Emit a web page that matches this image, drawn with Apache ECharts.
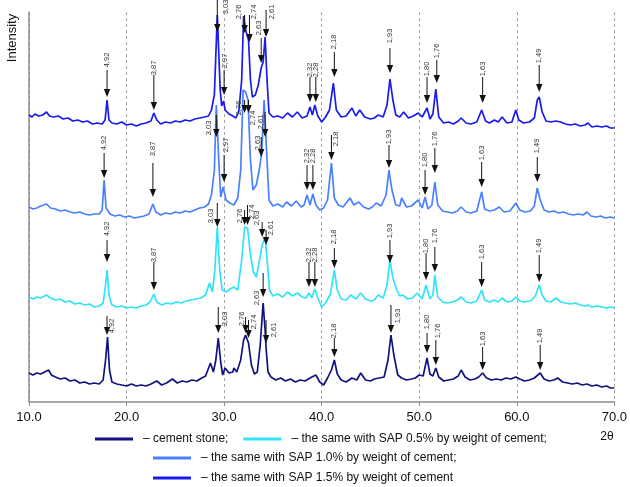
<!DOCTYPE html>
<html>
<head>
<meta charset="utf-8">
<script src="https://cdn.jsdelivr.net/npm/echarts@6/dist/echarts.min.js"></script>
<style>
  html, body { margin: 0; padding: 0; background: #fff; }
  #chart { width: 630px; height: 487px; }
</style>
</head>
<body>
<div id="chart"></div>
<script>
// 2θ, intensity (arbitrary units, traces already stacked)
var sap15 = [
  [10.0,287],[10.3,285],[10.6,288],[11.0,286],[11.4,287],[11.8,290],[12.1,286],[12.5,285],[13.0,286],[13.5,283],
  [14.0,284],[14.5,281],[15.0,282],[15.5,280],[16.0,281],[16.5,278],[17.0,279],[17.5,278],[17.8,282],[18.0,302],
  [18.2,282],[18.5,279],[19.0,278],[19.5,280],[20.0,277],[20.5,278],[21.0,276],[21.5,278],[22.0,279],[22.5,281],
  [22.8,289],[23.1,282],[23.5,278],[24.0,280],[24.5,279],[25.0,281],[25.5,280],[26.0,282],[26.5,281],[27.0,283],
  [27.5,284],[28.0,285],[28.4,286],[28.7,292],[29.0,307],[29.3,387],[29.6,312],[29.75,296],[29.95,301],[30.1,292],
  [30.5,288],[30.9,286],[31.2,284],[31.5,290],[31.8,322],[32.0,386],[32.2,372],[32.5,362],[32.7,322],[32.9,305],
  [33.2,307],[33.5,317],[33.8,334],[34.0,340],[34.2,365],[34.4,322],[34.6,289],[35.0,285],[35.5,286],[36.0,284],
  [36.5,289],[37.0,285],[37.5,290],[38.0,284],[38.5,286],[38.8,295],[39.05,287],[39.3,297],[39.6,286],[40.0,280],
  [40.4,285],[40.8,292],[41.2,319],[41.5,292],[42.0,285],[42.5,286],[43.1,294],[43.5,286],[43.9,292],[44.4,285],
  [45.0,283],[45.4,284],[45.8,287],[46.3,285],[46.7,297],[47.0,323],[47.3,302],[47.6,287],[48.0,285],[48.4,290],
  [48.9,284],[49.4,286],[49.9,289],[50.3,285],[50.8,294],[51.1,283],[51.4,288],[51.7,313],[52.0,285],[52.5,279],
  [53.0,280],[53.5,278],[54.0,281],[54.3,284],[54.8,279],[55.3,278],[55.9,280],[56.4,292],[56.8,281],[57.2,279],
  [57.7,282],[58.1,280],[58.5,285],[59.0,279],[59.5,280],[59.9,292],[60.2,282],[60.7,279],[61.3,280],[61.8,284],
  [62.1,302],[62.3,305],[62.6,290],[63.0,281],[63.5,280],[64.0,281],[64.5,280],[65.0,278],[65.5,277],[66.0,278],
  [66.5,276],[67.0,277],[67.3,279],[67.7,275],[68.2,276],[68.7,275],[69.2,276],[69.6,274],[70.0,274]
];
var sap10 = [
  [10.0,195],[10.4,193],[10.8,194],[11.2,196],[11.8,198],[12.2,194],[12.7,193],[13.2,191],[13.7,192],[14.2,190],
  [14.7,189],[15.2,190],[15.7,188],[16.2,187],[16.7,188],[17.2,188],[17.5,192],[17.7,222],[17.9,194],[18.3,188],
  [18.8,186],[19.3,187],[19.8,185],[20.3,186],[20.8,184],[21.3,185],[21.8,186],[22.3,188],[22.7,198],[23.0,190],
  [23.5,187],[24.0,189],[24.5,188],[25.0,190],[25.5,189],[26.0,191],[26.5,190],[27.0,192],[27.5,194],[28.0,195],
  [28.4,198],[28.7,207],[29.0,232],[29.2,297],[29.45,242],[29.65,205],[29.9,215],[30.2,202],[30.6,199],[31.0,197],
  [31.4,204],[31.7,232],[31.95,312],[32.2,310],[32.45,302],[32.7,242],[32.95,212],[33.3,217],[33.6,232],[33.85,249],
  [34.1,302],[34.35,252],[34.6,202],[35.0,196],[35.5,198],[36.0,195],[36.4,200],[36.9,196],[37.4,201],[37.9,195],
  [38.2,197],[38.5,207],[38.8,197],[39.1,208],[39.4,197],[39.8,192],[40.2,194],[40.6,202],[41.0,239],[41.3,204],
  [41.7,197],[42.2,195],[42.9,204],[43.3,197],[43.8,200],[44.3,195],[44.8,193],[45.2,195],[45.6,199],[46.1,196],
  [46.6,207],[46.9,232],[47.2,212],[47.6,197],[48.0,196],[48.2,204],[48.7,195],[49.2,196],[49.9,202],[50.3,194],
  [50.6,205],[50.9,193],[51.3,197],[51.6,220],[51.9,197],[52.4,191],[52.9,190],[53.4,189],[53.9,191],[54.3,195],
  [54.8,190],[55.3,189],[55.9,191],[56.4,210],[56.7,193],[57.2,191],[57.7,192],[58.2,195],[58.7,190],[59.3,191],
  [59.9,199],[60.3,192],[60.8,190],[61.4,191],[61.8,196],[62.1,214],[62.4,202],[62.8,192],[63.3,190],[63.8,191],
  [64.3,189],[64.8,190],[65.3,188],[65.8,187],[66.3,188],[66.8,187],[67.2,190],[67.6,186],[68.1,185],[68.6,186],
  [69.1,184],[69.6,185],[70.0,184]
];
var sap05 = [
  [10.0,105],[10.4,103],[10.8,105],[11.2,104],[11.8,107],[12.2,104],[12.7,102],[13.2,103],[13.7,100],[14.2,101],
  [14.7,98],[15.2,99],[15.7,97],[16.2,98],[16.7,95],[17.2,96],[17.6,99],[17.85,117],[18.0,132],[18.2,107],
  [18.5,97],[19.0,95],[19.5,96],[20.0,94],[20.5,95],[21.0,94],[21.5,96],[22.0,97],[22.4,100],[22.8,108],
  [23.1,100],[23.6,97],[24.1,99],[24.6,98],[25.1,100],[25.6,99],[26.1,101],[26.6,102],[27.1,103],[27.6,104],
  [28.1,107],[28.5,119],[28.8,110],[29.05,132],[29.3,175],[29.55,132],[29.8,112],[30.2,110],[30.6,113],[31.0,115],
  [31.4,112],[31.8,142],[32.1,175],[32.4,174],[32.7,147],[33.0,130],[33.3,125],[33.6,140],[33.9,157],[34.2,165],
  [34.45,137],[34.65,112],[35.0,106],[35.5,108],[36.0,105],[36.5,110],[37.0,106],[37.5,109],[38.0,105],[38.4,104],
  [38.7,109],[39.0,104],[39.3,113],[39.6,104],[40.0,95],[40.4,99],[40.9,108],[41.3,132],[41.6,112],[42.0,103],
  [42.5,102],[43.0,107],[43.5,103],[44.0,109],[44.5,103],[45.0,101],[45.4,102],[45.8,107],[46.3,104],[46.7,117],
  [47.0,142],[47.3,124],[47.7,112],[48.0,106],[48.3,107],[48.8,103],[49.3,104],[49.8,109],[50.3,103],[50.7,117],
  [51.1,103],[51.4,107],[51.6,127],[51.9,105],[52.4,100],[52.9,99],[53.4,100],[53.9,102],[54.3,105],[54.8,100],
  [55.3,99],[55.9,101],[56.4,112],[56.7,102],[57.2,100],[57.7,102],[58.1,100],[58.5,104],[59.0,100],[59.5,101],
  [59.9,105],[60.3,101],[60.8,100],[61.4,101],[61.9,106],[62.3,117],[62.6,107],[63.0,101],[63.5,100],[64.0,104],
  [64.5,100],[65.0,99],[65.5,98],[66.0,99],[66.5,97],[67.0,96],[67.3,97],[67.7,95],[68.2,96],[68.7,95],
  [69.2,94],[69.6,95],[70.0,94]
];
var cementStone = [
  [10.0,29],[10.4,27],[10.8,29],[11.2,28],[11.6,30],[12.0,32],[12.3,27],[12.7,25],[13.2,23],[13.7,24],
  [14.2,21],[14.7,22],[15.2,19],[15.7,20],[16.2,18],[16.7,19],[17.2,18],[17.6,22],[17.85,42],[18.05,65],
  [18.25,32],[18.5,20],[19.0,18],[19.5,17],[20.0,16],[20.5,18],[21.0,16],[21.5,17],[22.0,16],[22.5,18],
  [23.1,21],[23.6,17],[24.1,19],[24.7,23],[25.2,19],[25.7,21],[26.2,20],[26.7,22],[27.2,21],[27.7,24],
  [28.1,26],[28.6,39],[28.9,30],[29.15,42],[29.4,64],[29.65,40],[29.85,27],[30.1,34],[30.5,29],[30.9,30],
  [31.0,34],[31.3,30],[31.7,42],[32.0,62],[32.2,67],[32.5,59],[32.8,37],[33.1,28],[33.4,30],[33.7,57],
  [34.0,99],[34.2,72],[34.3,54],[34.5,30],[34.8,25],[35.3,22],[35.8,24],[36.3,21],[36.8,23],[37.3,20],
  [37.8,22],[38.3,21],[38.8,24],[39.4,27],[39.8,20],[40.2,17],[40.6,24],[41.0,32],[41.3,42],[41.6,28],
  [42.0,22],[42.5,20],[43.1,24],[43.6,22],[44.0,29],[44.5,22],[45.0,21],[45.4,23],[45.9,24],[46.4,25],
  [46.8,42],[47.1,67],[47.4,47],[47.8,27],[48.2,24],[48.7,22],[49.2,23],[49.6,24],[50.0,27],[50.4,26],
  [50.8,44],[51.1,28],[51.4,26],[51.7,34],[52.0,25],[52.5,21],[53.0,22],[53.5,23],[54.0,26],[54.3,32],
  [54.7,25],[55.2,22],[55.7,23],[56.1,25],[56.5,29],[56.9,24],[57.4,22],[57.9,23],[58.4,22],[58.9,24],
  [59.4,23],[59.9,25],[60.3,23],[60.8,21],[61.3,22],[61.8,24],[62.4,29],[62.8,23],[63.3,21],[63.8,22],
  [64.2,24],[64.7,20],[65.2,19],[65.7,18],[66.2,19],[66.7,17],[67.2,18],[67.7,16],[68.2,17],[68.7,15],
  [69.2,16],[69.6,14],[70.0,14]
];

// peak marks: d-spacing label, 2θ, arrow tail, arrow tip, text shift (px), text centre
var marks15 = [
  ['4,92',18.0,332,305,0,342],['3,87',22.8,327,292,0,334],['3,03',29.3,402,370,9,395],
  ['2,97',30.0,332,307,1,341],['2,76',32.1,387,369,-6,390],['2,74',32.6,387,360,4,390],
  ['2,63',33.8,364,339,-2,374],['2,61',34.3,392,365,6,390],['2,32',38.8,325,300,0,332],
  ['2,28',39.4,325,300,0,332],['2,18',41.3,350,325,0,360],['1,93',47.0,354,329,0,366],
  ['1,80',50.8,325,299,0,333],['1,76',51.8,342,319,0,351],['1,63',56.5,325,299,0,333],
  ['1,49',62.3,337,310,0,346]
];
var marks10 = [
  ['4,92',17.7,249,224,0,259],['3,87',22.7,239,205,0,253],['3,03',29.2,287,265,-7,274],
  ['2,97',30.0,247,220,2,257],['2,76',32.1,302,289,-6,294],['2,74',32.5,302,289,4,284],
  ['2,63',33.8,265,245,-3,259],['2,61',34.2,290,265,-4,280],['2,32',38.5,237,212,0,246],
  ['2,28',39.1,237,212,0,246],['2,18',41.0,267,242,5,263],['1,93',46.9,257,234,0,265],
  ['1,80',50.6,232,207,0,242],['1,76',51.6,254,229,0,263],['1,63',56.4,240,215,0,249],
  ['1,49',62.1,245,220,0,256]
];
var marks05 = [
  ['4,92',18.0,162,140,0,173],['3,87',22.8,140,112,0,147],['3,03',29.3,199,175,-6,186],
  ['2,76',32.1,192,177,-5,186],['2,74',32.4,197,177,4,190],['2,63',33.9,180,165,-5,184],
  ['2,61',34.3,172,157,5,174],['2,32',38.7,140,115,0,147],['2,28',39.3,140,115,0,147],
  ['2,18',41.3,154,134,0,165],['1,93',47.0,162,139,0,171],['1,80',50.7,149,122,0,156],
  ['1,76',51.6,155,130,0,166],['1,63',56.4,140,115,0,150],['1,49',62.3,147,120,0,156]
];
var marksStone = [
  ['4,92',18.0,86,67,5,76],['3,03',29.4,95,69,7,83],['2,76',32.2,85,69,-4,83],
  ['2,74',32.5,82,64,5,80],['2,63',34.0,129,105,-6,104],['2,61',34.3,82,59,8,72],
  ['2,18',41.3,64,45,0,71],['1,93',47.1,97,69,7,86],['1,80',50.8,69,49,0,80],
  ['1,76',51.7,62,37,2,71],['1,63',56.5,55,32,0,63],['1,49',62.4,57,32,0,66]
];

var xTicks = [10, 20, 30, 40, 50, 60, 70];

var legendText = {
  'cement stone': '– cement stone;',
  'SAP 0.5%': '– the same with SAP 0.5% by weight of cement;',
  'SAP 1.0%': '– the same with SAP 1.0% by weight of cement;',
  'SAP 1.5%': '– the same with SAP 1.5% by weight of cement'
};

var FONT = 'Liberation Sans, Arial, sans-serif';

function arrowSeries(marks) {
  return {
    type: 'custom',
    z: 10,
    silent: true,
    data: marks.map(function (m) { return [m[1], m[2], m[3]]; }),
    encode: {x: 0, y: [1, 2]},
    renderItem: function (params, api) {
      var m = marks[params.dataIndex];
      var tail = api.coord([m[1], m[2]]);
      var tip = api.coord([m[1], m[3]]);
      var txt = api.coord([m[1], m[5]]);
      return {
        type: 'group',
        children: [
          {type: 'line', shape: {x1: tail[0], y1: tail[1], x2: tip[0], y2: tip[1] - 6},
           style: {stroke: '#111', lineWidth: 1}},
          {type: 'polygon', shape: {points: [[tip[0] - 3.2, tip[1] - 8], [tip[0] + 3.2, tip[1] - 8], [tip[0], tip[1]]]},
           style: {fill: '#111'}},
          {type: 'text', x: txt[0] + m[4], y: txt[1], rotation: Math.PI / 2,
           style: {text: m[0], fontSize: 7.5, fontFamily: FONT, fill: '#333', align: 'center', verticalAlign: 'middle'}}
        ]
      };
    }
  };
}

function traceSeries(name, data, color) {
  return {
    name: name,
    type: 'line',
    data: data,
    showSymbol: false,
    symbol: 'none',
    silent: true,
    lineStyle: {color: color, width: 1.7},
    itemStyle: {color: color}
  };
}

function legendRow(names, left, top) {
  return {
    data: names,
    left: left,
    top: top,
    orient: 'horizontal',
    padding: 0,
    icon: 'rect',
    itemWidth: 38,
    itemHeight: 3,
    itemGap: 15,
    selectedMode: false,
    textStyle: {fontSize: 12, fontFamily: FONT, color: '#111', padding: [0, 0, 0, 5]},
    formatter: function (n) { return legendText[n]; }
  };
}

var chart = echarts.init(document.getElementById('chart'), null, {renderer: 'canvas'});

var option = {
  animation: false,
  backgroundColor: '#fff',
  grid: {left: 29, right: 14, top: 12, bottom: 85},
  xAxis: {
    type: 'value',
    min: xTicks[0],
    max: xTicks[xTicks.length - 1],
    interval: 10,
    axisLine: {show: true, lineStyle: {color: '#8c8c8c', width: 1.5}},
    axisTick: {show: true, length: 4, lineStyle: {color: '#8c8c8c'}},
    axisLabel: {fontSize: 13, fontFamily: FONT, color: '#111', margin: 9,
      formatter: function (v) { return v.toFixed(1); }},
    splitLine: {show: true, lineStyle: {color: '#a5a5a5', type: [3, 3], width: 1}}
  },
  yAxis: {
    type: 'value',
    min: 0,
    max: 390,
    axisLine: {show: true, lineStyle: {color: '#8c8c8c', width: 1.5}},
    axisTick: {show: false},
    axisLabel: {show: false},
    splitLine: {show: false}
  },
  legend: [
    legendRow(['cement stone', 'SAP 0.5%'], 95, 433),
    legendRow(['SAP 1.0%'], 153, 452),
    legendRow(['SAP 1.5%'], 153, 472)
  ],
  graphic: [
    {type: 'text', x: 12, y: 38, rotation: Math.PI / 2,
     style: {text: 'Intensity', fontSize: 13, fontFamily: FONT, fill: '#111', align: 'center', verticalAlign: 'middle'}},
    {type: 'text', x: 607, y: 437,
     style: {text: '2θ', fontSize: 12, fontFamily: FONT, fill: '#111', align: 'center', verticalAlign: 'middle'}}
  ],
  series: [
    traceSeries('cement stone', cementStone, '#12127f'),
    traceSeries('SAP 0.5%', sap05, '#30e4f6'),
    traceSeries('SAP 1.0%', sap10, '#4a80ff'),
    traceSeries('SAP 1.5%', sap15, '#1a1af0'),
    arrowSeries(marksStone),
    arrowSeries(marks05),
    arrowSeries(marks10),
    arrowSeries(marks15)
  ]
};

chart.setOption(option);
</script>
</body>
</html>
